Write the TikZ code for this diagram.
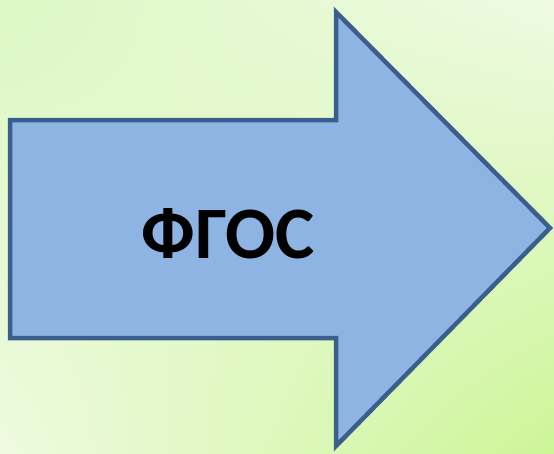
\documentclass[tikz,border=0pt]{standalone}
\usepackage{fontspec}
\setmainfont{Carlito}
\usetikzlibrary{shadings}
\definecolor{arrowfill}{HTML}{8EB4E3}
\definecolor{arrowline}{HTML}{3A5F8E}
\definecolor{bgtl}{HTML}{DDF8C4}
\definecolor{bgtr}{HTML}{EEFAE2}
\definecolor{bgbl}{HTML}{EEFADF}
\definecolor{bgbr}{HTML}{CCF597}
\tikzset{bigarrow/.style={fill=arrowfill,draw=arrowline,line width=4.5pt,line join=miter},
  label text/.style={font=\bfseries\fontsize{74}{84}\selectfont,text=black,inner sep=0pt}}
\begin{document}
\begin{tikzpicture}[x=1pt,y=-1pt]
\useasboundingbox (0,0) rectangle (554,453);
\shade[upper left=bgtl,upper right=bgtr,lower left=bgbl,lower right=bgbr] (0,0) rectangle (554,453);
\draw[bigarrow] (10,120) -- (336,120) -- (336,12) -- (550,228) -- (336,446) -- (336,338) -- (10,338) -- cycle;
\node[label text,anchor=base] (t) at (228,258) {ФГОС};
\end{tikzpicture}
\end{document}
